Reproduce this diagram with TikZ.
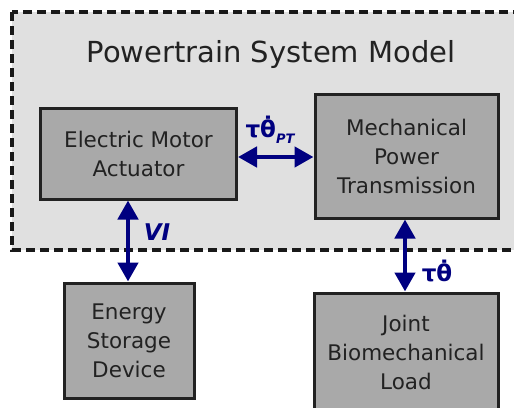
\documentclass[tikz,border=0pt]{standalone}
\usepackage{fontspec}
\setmainfont{DejaVu Sans}
\usetikzlibrary{arrows.meta}
\definecolor{navyc}{HTML}{000080}
\definecolor{boxfill}{HTML}{A9A9A9}
\definecolor{bgfill}{HTML}{E0E0E0}
\definecolor{textc}{HTML}{222222}
\tikzset{
  block/.style={draw=textc, line width=3pt, fill=boxfill, text=textc, align=center, font=\fontsize{21.5}{29}\selectfont, inner sep=0pt},
  flow/.style={draw=navyc, line width=4.5pt, {Triangle[length=19pt,width=20pt,fill=navyc]}-{Triangle[length=19pt,width=20pt,fill=navyc]}},
  lab/.style={text=navyc, font=\bfseries\fontsize{23}{26}\selectfont, inner sep=0pt}
}
\begin{document}
\begin{tikzpicture}[x=1pt,y=-1pt]
\useasboundingbox (0,0) rectangle (514,407);
\clip (0,0) rectangle (514,407);
\fill[white] (0,0) rectangle (514,407);
\draw[fill=bgfill, draw=black!90, line width=3.5pt, dash pattern=on 9pt off 5pt] (12,12) rectangle (540,250);
\node[text=textc, font=\fontsize{29}{33}\selectfont] (title) at (271,54) {Powertrain System Model};
\node[block, minimum width=196pt, minimum height=91pt] (motor) at (138.5,153.5) {Electric Motor\\Actuator};
\node[block, minimum width=183pt, minimum height=124pt] (mech) at (406.5,156) {Mechanical\\Power\\Transmission};
\node[block, minimum width=130pt, minimum height=115pt] (energy) at (129,340.5) {Energy\\Storage\\Device};
\node[block, minimum width=184pt, minimum height=118pt] (joint) at (406,352) {Joint\\Biomechanical\\Load};
\draw[flow] (motor.east |- 0,157) -- (mech.west |- 0,157);
\draw[flow] (motor.south -| 128,0) -- (energy.north -| 128,0);
\draw[flow] (mech.south -| 405,0) -- (joint.north -| 405,0);
\node[lab] (lpt) at (270,130) {τθ̇\raisebox{-0.5ex}{\itshape\fontsize{13}{14}\selectfont PT}};
\node[lab, font=\bfseries\itshape\fontsize{23}{26}\selectfont] (lvi) at (157,232) {VI};
\node[lab] (ltt) at (437,271) {τθ̇};
\end{tikzpicture}
\end{document}
